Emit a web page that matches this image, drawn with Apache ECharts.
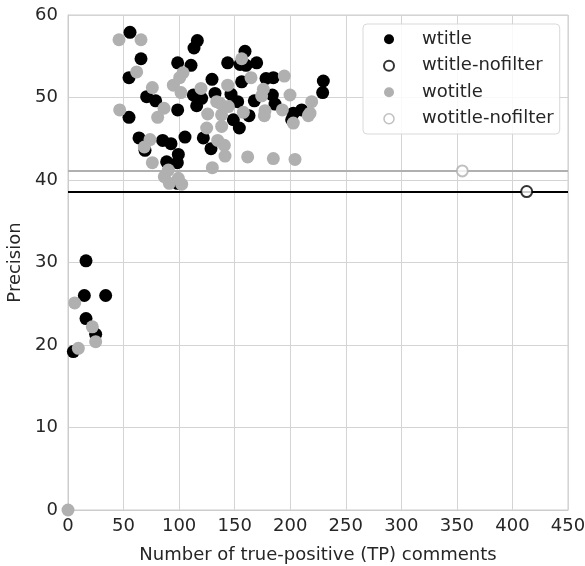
<!DOCTYPE html>
<html><head><meta charset="utf-8">
<script src="https://cdn.jsdelivr.net/npm/echarts@6/dist/echarts.min.js"></script>
<style>html,body{margin:0;padding:0;background:#fff}#c{width:585px;height:566px}</style>
</head><body><div id="c"></div>
<script>
// wtitle (filled black)
const wtitleX = [4.8,14.7,16.2,16.2,24.9,33.9,
 55.8,65.7,54.9,98.7,110.7,116.4,113.4,70.8,78.9,98.7,54.9,129.6,112.8,120.3,115.8,132.3,
 159.3,143.7,154.8,160.2,169.8,156.3,178.2,184.8,229.8,229.2,146.7,152.7,167.7,183.9,186.3,
 210.3,202.8,63.9,85.2,92.7,105.3,69.3,99.3,88.8,98.4,98.5,148.8,162.9,154.2,121.8,128.7,201.3];
const wtitleY = [19.2,26.0,30.2,23.2,21.3,26.0,
 57.9,54.7,52.4,54.2,53.9,56.9,56.0,50.1,49.6,48.5,47.6,52.2,50.3,49.9,49.0,50.5,
 55.6,54.2,54.0,53.9,54.2,51.9,52.3,52.4,52.0,50.6,50.4,49.5,49.6,50.3,49.2,
 48.5,48.1,45.1,44.8,44.4,45.2,43.6,43.1,42.2,42.1,39.6,47.3,47.8,46.3,45.1,43.8,47.3];
// wotitle (filled gray)
const wotitleX = [0,6.0,9.3,21.9,24.9,
 45.9,65.7,61.8,75.9,94.8,100.5,103.5,101.7,86.4,46.5,119.7,125.7,133.8,156.3,143.7,164.7,
 194.7,175.8,174.3,199.8,219.3,136.8,144.3,157.8,177.3,192.9,217.8,80.7,73.8,68.7,75.9,
 90.3,86.7,91.2,99.3,102.3,138.2,176.7,216.3,124.8,138.3,134.7,140.7,141.3,161.7,184.8,
 204.3,129.9,202.8];
const wotitleY = [0,25.1,19.6,22.2,20.4,
 57.0,57.0,53.1,51.2,51.5,52.4,53.0,50.6,48.7,48.5,51.1,48.0,49.5,54.7,51.5,52.4,
 52.6,51.0,50.2,50.3,49.5,49.3,48.9,48.2,48.4,48.5,48.1,47.6,44.9,44.0,42.1,
 41.2,40.4,39.6,40.2,39.5,47.9,47.8,47.8,46.3,46.5,44.8,44.2,42.9,42.8,42.6,
 42.5,41.5,46.9];
// nofilter points
const wtitleNofilterX = [412.8];
const wtitleNofilterY = [38.6];
const wotitleNofilterX = [354.9];
const wotitleNofilterY = [41.1];
const seriesNames = ['wtitle','wtitle-nofilter','wotitle','wotitle-nofilter'];
const xTicks = [0,50,100,150,200,250,300,350,400,450];
const yTicks = [0,10,20,30,40,50,60];

const zip = (xs, ys) => xs.map((x, i) => [x, ys[i]]);
const GRAY = '#b0b0b0';
const FONT = '"DejaVu Sans"';
const TXT = '#262626';
const FS = 18;

const chart = echarts.init(document.getElementById('c'), null, {renderer: 'canvas'});
chart.setOption({
  animation: false,
  backgroundColor: '#fff',
  grid: {left: 68, right: 17, top: 15, bottom: 56, show: true, borderColor: '#cccccc', borderWidth: 1,
         containLabel: false, outerBoundsMode: 'none'},
  xAxis: {
    type: 'value', min: xTicks[0], max: xTicks[xTicks.length-1], interval: 50,
    name: 'Number of true-positive (TP) comments', nameLocation: 'middle', nameGap: 36,
    nameTextStyle: {fontFamily: FONT, fontSize: FS, color: TXT},
    axisLine: {show: true, lineStyle: {color: '#cccccc'}}, axisTick: {show: false},
    axisLabel: {fontFamily: FONT, fontSize: FS, color: TXT, margin: 7},
    splitLine: {show: true, lineStyle: {color: '#d4d4d4', width: 1}}
  },
  yAxis: {
    type: 'value', min: yTicks[0], max: yTicks[yTicks.length-1], interval: 10,
    name: 'Precision', nameLocation: 'middle', nameGap: 40,
    nameTextStyle: {fontFamily: FONT, fontSize: FS, color: TXT},
    axisLine: {show: true, lineStyle: {color: '#cccccc'}}, axisTick: {show: false},
    axisLabel: {fontFamily: FONT, fontSize: FS, color: TXT, margin: 10},
    splitLine: {show: true, lineStyle: {color: '#d4d4d4', width: 1}}
  },
  legend: {
    orient: 'vertical', left: 363, top: 24,
    backgroundColor: 'rgba(255,255,255,0.85)', borderColor: '#d9d9d9', borderWidth: 1, borderRadius: 4,
    padding: [6, 6, 6, 20],
    itemWidth: 10, itemHeight: 10, itemGap: 8,
    textStyle: {fontFamily: FONT, fontSize: FS, color: TXT, padding: [0, 0, 0, 23], lineHeight: 18.5},
    data: [
      {name: seriesNames[0], icon: 'circle', itemStyle: {color: '#000'}},
      {name: seriesNames[1], icon: 'circle', itemStyle: {color: '#fff', borderColor: '#000', borderWidth: 2}},
      {name: seriesNames[2], icon: 'circle', itemStyle: {color: GRAY}},
      {name: seriesNames[3], icon: 'circle', itemStyle: {color: '#fff', borderColor: GRAY, borderWidth: 1.5}}
    ]
  },
  series: [
    {name: seriesNames[0], type: 'scatter', symbol: 'circle', symbolSize: 13, z: 2,
     itemStyle: {color: '#000', opacity: 1}, data: zip(wtitleX, wtitleY)},
    {name: seriesNames[1], type: 'scatter', symbol: 'circle', symbolSize: 11, z: 5,
     itemStyle: {color: '#fff', borderColor: '#000', borderWidth: 2}, data: zip(wtitleNofilterX, wtitleNofilterY),
     markLine: {silent: true, symbol: 'none', label: {show: false}, animation: false,
       lineStyle: {color: '#000', width: 2.2, type: 'solid'}, data: [{yAxis: wtitleNofilterY[0]}]}},
    {name: seriesNames[2], type: 'scatter', symbol: 'circle', symbolSize: 13, z: 3,
     itemStyle: {color: GRAY, opacity: 1}, data: zip(wotitleX, wotitleY)},
    {name: seriesNames[3], type: 'scatter', symbol: 'circle', symbolSize: 11, z: 5,
     itemStyle: {color: '#fff', borderColor: GRAY, borderWidth: 2}, data: zip(wotitleNofilterX, wotitleNofilterY),
     markLine: {silent: true, symbol: 'none', label: {show: false}, animation: false,
       lineStyle: {color: GRAY, width: 2.2, type: 'solid'}, data: [{yAxis: wotitleNofilterY[0]}]}}
  ]
});
</script></body></html>
